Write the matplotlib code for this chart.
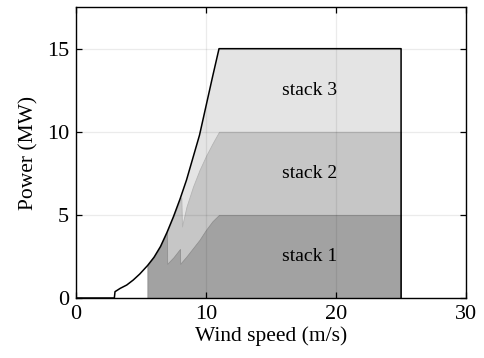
import matplotlib
matplotlib.use('Agg')
import matplotlib.pyplot as plt

plt.rcParams['font.family'] = ['Liberation Serif', 'DejaVu Serif']

# turbine power curve (black line)
curve_ws = [0, 2.95, 3.0, 3.4, 3.9, 4.4, 4.9, 5.5, 6.0, 6.5, 7.0, 7.5, 8.0,
            8.5, 9.0, 9.5, 10.0, 10.5, 11.0, 25.0, 25.0]
curve_p = [0, 0, 0.38, 0.58, 0.78, 1.08, 1.44, 1.95, 2.45, 3.1, 3.95, 4.9, 5.95,
           7.1, 8.45, 9.8, 11.55, 13.3, 15.0, 15.0, 0]

# stack 3 top (light)
s3_ws = [5.5, 6.0, 6.5, 7.0, 7.5, 8.0, 8.5, 9.0, 9.5, 10.0, 10.5, 11.0, 25.0]
s3_top = [1.95, 2.45, 3.1, 3.95, 4.9, 5.95, 7.1, 8.45, 9.8, 11.55, 13.3, 15.0, 15.0]

# stack 2 top (medium)
s2_ws = [5.5, 6.0, 6.5, 7.0, 7.5, 8.1, 8.15, 8.5, 9.0, 9.5, 10.0, 10.5, 11.0, 25.0]
s2_top = [1.95, 2.45, 3.1, 3.95, 4.9, 6.05, 4.3, 5.5, 6.7, 7.7, 8.55, 9.3, 10.0, 10.0]

# stack 1 top (dark)
s1_ws = [5.5, 6.0, 6.5, 7.0, 7.01, 7.5, 8.0, 8.01, 8.5, 9.0, 9.5, 10.0, 10.5, 11.0, 25.0]
s1_top = [1.95, 2.45, 3.1, 3.95, 2.05, 2.45, 2.95, 2.05, 2.5, 3.0, 3.5, 4.1, 4.62, 5.0, 5.0]

stack_labels = ['stack 1', 'stack 2', 'stack 3']
label_y = [2.5, 7.5, 12.5]

fig = plt.figure(figsize=(4.84, 3.58), dpi=100)
ax = fig.add_axes([0.157, 0.1676, 0.806, 0.8125])

ax.fill_between(s3_ws, 0, s3_top, color='#e4e4e4', lw=0, zorder=1)
ax.fill_between(s2_ws, 0, s2_top, facecolor='#c6c6c6', edgecolor='#b4b4b4', lw=0.6, zorder=1.1)
ax.fill_between(s1_ws, 0, s1_top, facecolor='#a2a2a2', edgecolor='#909090', lw=0.6, zorder=1.2)

ax.plot(curve_ws, curve_p, color='black', lw=1.1, zorder=4)

for lab, yy in zip(stack_labels, label_y):
    ax.text(18, yy, lab, ha='center', va='center', fontsize=14, zorder=5)

ax.grid(True, color='black', alpha=0.08, lw=0.9, zorder=3)
ax.set_axisbelow(False)

ax.set_xlim(0, 30)
ax.set_ylim(0, 17.5)
ax.set_xticks([0, 10, 20, 30])
ax.set_yticks([0, 5, 10, 15])
ax.tick_params(direction='in', top=True, right=True, length=4, width=0.9,
               labelsize=16, pad=5)
for sp in ax.spines.values():
    sp.set_linewidth(1.0)
    sp.set_zorder(6)

ax.set_xlabel('Wind speed (m/s)', fontsize=15.5, labelpad=2)
ax.set_ylabel('Power (MW)', fontsize=15.5, labelpad=6)

fig.savefig('out.png', dpi=100)
